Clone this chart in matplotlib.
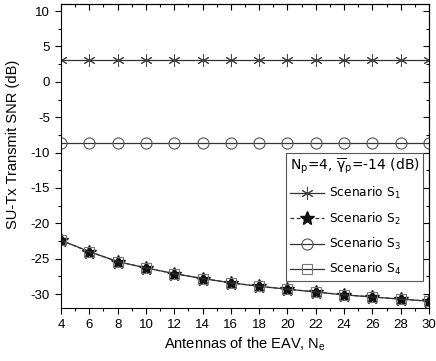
import matplotlib
matplotlib.use("Agg")
import matplotlib.pyplot as plt
from matplotlib.ticker import MultipleLocator

plt.rcParams["font.family"] = ["Liberation Sans", "DejaVu Sans"]
plt.rcParams["axes.unicode_minus"] = False
plt.rcParams["mathtext.fontset"] = "custom"
plt.rcParams["mathtext.rm"] = "DejaVu Sans"
plt.rcParams["mathtext.it"] = "DejaVu Sans"

# data
ne = [4, 6, 8, 10, 12, 14, 16, 18, 20, 22, 24, 26, 28, 30]
s1 = [3.15] * len(ne)
s3 = [-8.65] * len(ne)
s2 = [-22.4, -24.0, -25.4, -26.3, -27.1, -27.8, -28.4, -28.9, -29.3, -29.7,
      -30.1, -30.4, -30.7, -31.0]
s4 = list(s2)

LINE = "#333333"

fig = plt.figure(figsize=(4.36, 3.61), dpi=100)
ax = fig.add_axes([0.140, 0.146, 0.844, 0.843])

ax.plot(ne, s1, color=LINE, lw=0.9, marker=(6, 2, 0), ms=9, mew=0.7,
        mec="#444444", label="Scenario $\\mathregular{S_1}$")
ax.plot(ne, s2, color=LINE, lw=0.9, ls=(0, (3, 2)), marker="*", ms=10,
        mfc="#111111", mec="#111111", label="Scenario $\\mathregular{S_2}$")
ax.plot(ne, s3, color=LINE, lw=0.9, marker="o", ms=8, mfc="none",
        mec="#555555", mew=0.8, label="Scenario $\\mathregular{S_3}$")
ax.plot(ne, s4, color=LINE, lw=0.9, marker="s", ms=7, mfc="none",
        mec="#777777", mew=0.8, label="Scenario $\\mathregular{S_4}$")

ax.set_xlim(4, 30)
ax.set_ylim(-32, 11)
ax.xaxis.set_major_locator(MultipleLocator(2))
ax.xaxis.set_minor_locator(MultipleLocator(1))
ax.yaxis.set_major_locator(MultipleLocator(5))
ax.yaxis.set_minor_locator(MultipleLocator(2.5))
ax.tick_params(which="both", direction="out", labelsize=9.5, width=0.8)
ax.tick_params(which="major", length=4.5)
ax.tick_params(which="minor", length=2.5)

# mirrored ticks pointing inward on top/right
top = ax.secondary_xaxis("top")
top.xaxis.set_major_locator(MultipleLocator(2))
top.xaxis.set_minor_locator(MultipleLocator(1))
top.tick_params(which="both", direction="in", labeltop=False, width=0.8)
top.tick_params(which="major", length=4.5)
top.tick_params(which="minor", length=2.5)
right = ax.secondary_yaxis("right")
right.yaxis.set_major_locator(MultipleLocator(5))
right.yaxis.set_minor_locator(MultipleLocator(2.5))
right.tick_params(which="both", direction="in", labelright=False, width=0.8)
right.tick_params(which="major", length=4.5)
right.tick_params(which="minor", length=2.5)

for sp in ax.spines.values():
    sp.set_linewidth(0.8)

ax.set_xlabel("Antennas of the EAV, N$_\\mathregular{e}$", fontsize=10.5, labelpad=3)
ax.set_ylabel("SU-Tx Transmit SNR (dB)", fontsize=10.5)
ax.yaxis.set_label_coords(-0.112, 0.537)

leg = ax.legend(loc="lower right", bbox_to_anchor=(0.984, 0.09),
                title="N$_\\mathregular{p}$=4, $\\overline{\\gamma}_\\mathregular{p}$=-14 (dB)",
                prop={"family": "DejaVu Sans", "size": 8.8},
                title_fontproperties={"family": "DejaVu Sans", "size": 10},
                fancybox=False, edgecolor="#555555", framealpha=1,
                handlelength=2.8, handletextpad=0.4, labelspacing=0.75,
                borderpad=0.3, borderaxespad=0)
leg._legend_box.align = "left"
leg.get_frame().set_linewidth(0.8)

fig.savefig("out.png", dpi=100)
